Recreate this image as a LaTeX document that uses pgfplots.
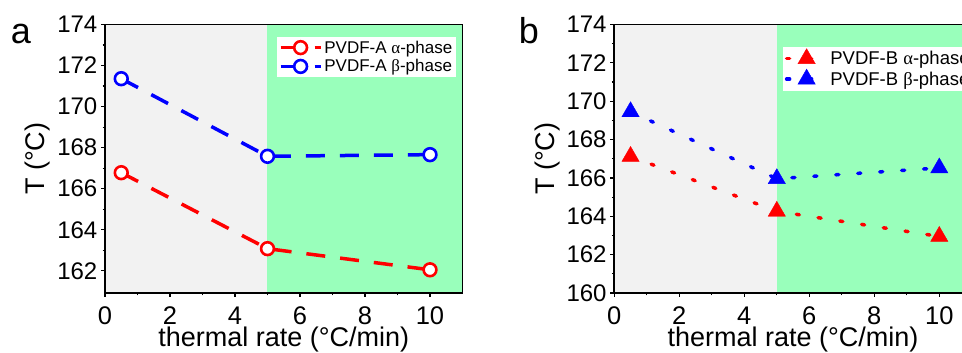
\documentclass[border=0pt]{standalone}
\usepackage{fontspec}
\setmainfont{Liberation Sans}
\newfontfamily\grk{Liberation Serif}
\usepackage{pgfplots}
\pgfplotsset{compat=1.18}
\definecolor{bggreen}{RGB}{153,255,187}
\definecolor{bggray}{RGB}{242,242,242}
\pgfplotsset{
 panel/.style={
  scale only axis, width=357.5pt, height=268.5pt,
  xmin=0, xmax=11, xtick={0,2,...,10}, minor x tick num=1,
  minor y tick num=1,
  axis line style={line width=1.8pt},
  every tick/.style={line width=1.2pt, black},
  major tick length=4pt, minor tick length=2.5pt,
  tick pos=left, tick align=outside,
  axis on top,
  /pgf/number format/assume math mode=true,
  xticklabel style={font=\fontsize{25.5}{28}\selectfont, anchor=base, yshift=-28pt, inner sep=0pt},
  yticklabel style={font=\fontsize{24}{27}\selectfont, anchor=east, inner sep=0pt, xshift=-3.5pt},
  label style={font=\fontsize{27}{30}\selectfont},
  xlabel={thermal rate (°C/min)}, ylabel={T (°C)},
  xlabel style={at={(axis description cs:0.5,-0.2011)},anchor=base},
  ylabel style={at={(axis description cs:-0.1874,0.5)},anchor=center},
  legend style={at={(1,1)},anchor=north east, xshift=-6pt, yshift=-12pt,
    draw=none, fill=white, font=\fontsize{17}{20}\selectfont,
    inner xsep=2pt, inner ysep=2pt, row sep=1pt},
  legend cell align=left,
  legend image code/.code={\draw[mark repeat=2,mark phase=2,##1] plot coordinates {(0pt,0pt) (20pt,0pt) (40pt,0pt)};},
 }
}
\begin{document}
\begin{tikzpicture}
\useasboundingbox (0,0) rectangle (962pt,353pt);
\clip (0,0) rectangle (962pt,353pt);
\begin{axis}[panel, at={(105pt,60pt)}, anchor=south west,
  ymin=160.92, ymax=174, ytick={162,164,...,174}]
\fill[bggray] (rel axis cs:0,0) rectangle (rel axis cs:0.4545,1);
\fill[bggreen] (rel axis cs:0.4545,0) rectangle (rel axis cs:1,1);
\addplot[red, line width=3.5pt, dash pattern=on 19pt off 15pt, mark=*, mark size=6.4pt,
  mark options={solid, line width=2.6pt, draw=red, fill=white}]
  coordinates {(0.5,166.78) (5,163.08) (10,162.05)};
\addlegendentry{PVDF-A {\grk α}-phase}
\addplot[blue, line width=3.5pt, dash pattern=on 19pt off 15pt, mark=*, mark size=6.4pt,
  mark options={solid, line width=2.6pt, draw=blue, fill=white}]
  coordinates {(0.5,171.36) (5,167.58) (10,167.66)};
\addlegendentry{PVDF-A {\grk β}-phase}
\end{axis}
\begin{axis}[panel, at={(614.3pt,60pt)}, anchor=south west,
  ymin=160, ymax=174, ytick={160,162,...,174},
  legend style={font=\fontsize{18.5}{21}\selectfont, xshift=8pt, yshift=-10pt}]
\fill[bggray] (rel axis cs:0,0) rectangle (rel axis cs:0.4545,1);
\fill[bggreen] (rel axis cs:0.4545,0) rectangle (rel axis cs:1,1);
\addplot[red, line width=3.5pt, dash pattern=on 3pt off 19pt, line cap=round,
  mark=triangle*, mark size=10pt, mark options={solid, line width=0.4pt, draw=red, fill=red}]
  coordinates {(0.5,167.12) (5,164.26) (10,162.95)};
\addlegendentry{PVDF-B {\grk α}-phase}
\addplot[blue, line width=3.5pt, dash pattern=on 3pt off 19pt, line cap=round,
  mark=triangle*, mark size=10pt, mark options={solid, line width=0.4pt, draw=blue, fill=blue}]
  coordinates {(0.5,169.45) (5,165.96) (10,166.52)};
\addlegendentry{PVDF-B {\grk β}-phase}
\end{axis}
\node[font=\fontsize{36}{40}\selectfont, anchor=base] at (21pt,309pt) {a};
\node[font=\fontsize{36}{40}\selectfont, anchor=base] at (529pt,309pt) {b};
\end{tikzpicture}
\end{document}
